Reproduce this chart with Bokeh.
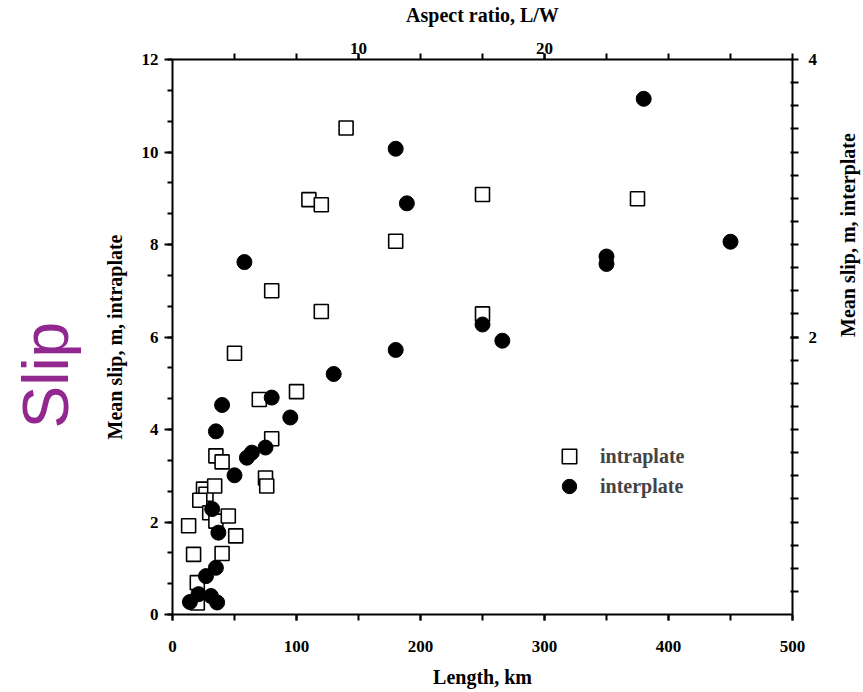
import math
from bokeh.plotting import figure
from bokeh.models import (Range1d, LinearAxis, SingleIntervalTicker, FixedTicker,
                          Legend, LegendItem, Title)
from bokeh.embed import file_html
from bokeh.resources import INLINE

# ---- data ----
intra_length = [140, 110, 120, 250, 375, 180, 80, 120, 250, 50, 100, 70, 80, 75, 76,
                35, 40, 25, 27, 34, 22, 30, 35, 45, 13, 51, 17, 40, 20, 20]
intra_slip = [10.52, 8.97, 8.86, 9.08, 8.99, 8.07, 7.0, 6.55, 6.5, 5.65, 4.82, 4.65, 3.8, 2.95, 2.78,
              3.43, 3.30, 2.71, 2.60, 2.78, 2.47, 2.20, 2.02, 2.13, 1.92, 1.70, 1.30, 1.32, 0.69, 0.25]

inter_length = [14, 21, 31, 36, 27, 35, 37, 32, 35, 40, 50, 60, 64, 75, 80, 95, 58,
                130, 180, 180, 189, 250, 266, 350, 350, 380, 450]
inter_slip = [0.27, 0.44, 0.40, 0.26, 0.83, 1.01, 1.77, 2.28, 3.96, 4.53, 3.01, 3.39, 3.50, 3.61, 4.69, 4.26, 7.62,
              5.20, 5.72, 10.07, 8.89, 6.27, 5.92, 7.74, 7.58, 11.15, 8.06]

length_range = (0, 500)
slip_range = (0, 12)
aspect_range = (0, 33.333)
inter_axis_range = (0, 4)
aspect_major = [10, 20]
inter_major = [2, 4]

FONT = "Liberation Serif"

p = figure(frame_width=620, frame_height=555, output_backend="svg", toolbar_location=None,
           x_range=Range1d(*length_range), y_range=Range1d(*slip_range),
           min_border_left=0, min_border_right=0, min_border_top=0, min_border_bottom=0,
           x_axis_label="Length, km", y_axis_label="Mean slip, m, intraplate")
p.margin = (0, 0, 0, -11)
p.title.visible = False
p.extra_x_ranges = {"aspect": Range1d(*aspect_range)}
p.extra_y_ranges = {"inter": Range1d(*inter_axis_range)}
p.xgrid.visible = False
p.ygrid.visible = False
p.outline_line_color = None
p.background_fill_color = "white"
p.border_fill_color = "white"

bottom = p.below[0]
left = p.left[0]
bottom.ticker = SingleIntervalTicker(interval=100, num_minor_ticks=2)
left.ticker = SingleIntervalTicker(interval=2, num_minor_ticks=3)

aspect_minor = [aspect_range[1] * i / 10 for i in range(1, 11)]
inter_minor = [2 * i / 12 for i in range(1, 24)]

top = LinearAxis(x_range_name="aspect", axis_label="Aspect ratio, L/W",
                 ticker=FixedTicker(ticks=aspect_major, minor_ticks=aspect_minor))
right = LinearAxis(y_range_name="inter", axis_label="Mean slip, m, interplate",
                   ticker=FixedTicker(ticks=inter_major, minor_ticks=inter_minor))
p.add_layout(top, "above")
p.add_layout(right, "right")


def style(ax):
    ax.axis_line_width = 2
    ax.axis_line_color = "black"
    ax.major_tick_line_width = 2
    ax.minor_tick_line_width = 2
    ax.major_tick_line_color = "black"
    ax.minor_tick_line_color = "black"
    ax.major_label_text_font = FONT
    ax.major_label_text_font_style = "bold"
    ax.major_label_text_font_size = "17px"
    ax.major_label_text_color = "black"
    ax.axis_label_text_font = FONT
    ax.axis_label_text_font_style = "bold"
    ax.axis_label_text_font_size = "20px"
    ax.axis_label_text_color = "black"


for ax in (bottom, left, top, right):
    style(ax)

bottom.major_tick_in = 0
bottom.major_tick_out = 6
bottom.minor_tick_in = 0
bottom.minor_tick_out = 6
bottom.major_label_standoff = 20
bottom.axis_label_standoff = 11

left.major_tick_in = 0
left.major_tick_out = 8
left.minor_tick_in = 0
left.minor_tick_out = 5
left.major_label_standoff = 6
left.axis_label_standoff = 13

top.major_tick_in = 0
top.major_tick_out = 6
top.minor_tick_in = 0
top.minor_tick_out = 6
top.major_label_standoff = 0
top.axis_label_standoff = 14

right.major_tick_in = 2
right.major_tick_out = 6
right.minor_tick_in = 2
right.minor_tick_out = 6
right.major_label_standoff = 10
right.axis_label_standoff = 28
right.axis_label_orientation = math.pi / 2

r1 = p.scatter(intra_length, intra_slip, marker="square", size=14,
               fill_color="white", line_color="black", line_width=1.6)
r2 = p.scatter(inter_length, inter_slip, marker="circle", size=15,
               fill_color="black", line_color="black", line_width=1)


def make_legend(label, renderer, loc):
    return Legend(items=[LegendItem(label=label, renderers=[renderer])],
                  location=loc, glyph_width=36, glyph_height=36,
                  padding=0, margin=0, label_standoff=13, border_line_color=None,
                  background_fill_alpha=0, label_text_font=FONT,
                  label_text_font_style="bold", label_text_font_size="20px")


p.add_layout(make_legend("intraplate", r1, (379, 140)))
p.add_layout(make_legend("interplate", r2, (379, 110)))

slip_title = Title(text="Slip", text_font="Liberation Sans", text_font_size="64px",
                   text_font_style="normal", text_color="#92278F", align="left",
                   standoff=37, offset=186)
p.add_layout(slip_title, "left")

open("out.html", "w").write(file_html(p, INLINE))
